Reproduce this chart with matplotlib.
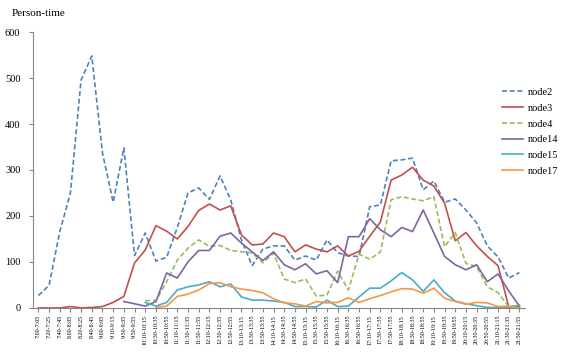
import numpy as np
import matplotlib
matplotlib.use("Agg")
import matplotlib.pyplot as plt

plt.rcParams['font.family'] = ['Liberation Serif', 'DejaVu Serif']

nan = np.nan

# time slots on the x axis
slots = ["7:00-7:05", "7:20-7:25", "7:40-7:45", "8:00-8:05", "8:20-8:25", "8:40-8:45",
         "9:00-9:05", "9:10-9:15", "9:30-9:35", "9:50-9:55", "10:10-10:15", "10:30-10:35",
         "10:50-10:55", "11:10-11:15", "11:30-11:35", "11:50-11:55", "12:10-12:15", "12:30-12:35",
         "12:50-12:55", "13:10-13:15", "13:30-13:35", "13:50-13:55", "14:10-14:15", "14:30-14:35",
         "14:50-14:55", "15:10-15:15", "15:30-15:35", "15:50-15:55", "16:10-16:15", "16:30-16:35",
         "16:50-16:55", "17:10-17:15", "17:30-17:35", "17:50-17:55", "18:10-18:15", "18:30-18:35",
         "18:50-18:55", "19:10-19:15", "19:30-19:35", "19:50-19:55", "20:10-20:15", "20:30-20:35",
         "20:50-20:55", "21:10-21:15", "21:30-21:35", "21:50-21:55"]

node2 = [27, 49, 165, 250, 496, 548, 337, 230, 348, 114, 163, 102, 110, 175, 250, 261,
         236, 287, 235, 148, 92, 128, 135, 135, 104, 113, 104, 148, 120, 113, 112, 220,
         224, 320, 322, 326, 257, 276, 230, 237, 213, 185, 135, 111, 65, 77]
node3 = [0, 0, 0, 3, 0, 1, 3, 12, 25, 98, 126, 179, 167, 150, 177, 212,
         226, 213, 222, 159, 137, 139, 163, 155, 122, 137, 128, 122, 135, 113, 123, 156,
         187, 278, 289, 306, 278, 265, 228, 146, 164, 135, 112, 92, 3, 3]
node4 = [nan] * 10 + [16, 16, 57, 104, 130, 148,
         134, 136, 125, 122, 120, 98, 119, 63, 55, 63, 26, 28, 80, 39, 117, 106,
         122, 235, 242, 237, 233, 242, 133, 164, 97, 90, 46, 33, 3, 4]
node14 = [nan] * 8 + [14, 9, 4, 14, 76, 65, 100, 125,
          125, 156, 163, 141, 122, 103, 122, 94, 83, 96, 74, 81, 55, 155, 155, 194,
          170, 155, 175, 166, 213, 163, 112, 94, 83, 94, 57, 74, 37, 4]
node15 = [nan] * 10 + [12, 4, 12, 39, 46, 50,
          57, 46, 52, 24, 17, 17, 15, 12, 3, 3, 2, 17, 3, 4, 24, 43,
          43, 59, 77, 61, 36, 61, 33, 15, 9, 5, 1, 1, 1, 6]
node17 = [nan] * 11 + [1, 4, 25, 30, 39,
          53, 55, 46, 41, 38, 33, 20, 11, 9, 4, 14, 11, 12, 22, 12, 20,
          27, 35, 42, 41, 32, 43, 21, 14, 8, 12, 11, 3, 4, 0]

names = ["node2", "node3", "node4", "node14", "node15", "node17"]
series = [node2, node3, node4, node14, node15, node17]
colors = ["#4F81BD", "#C0504D", "#9BBB59", "#8064A2", "#4BACC6", "#F79646"]
dashed = [True, False, True, False, False, False]

fig = plt.figure(figsize=(5.62, 3.56), dpi=100)
ax = fig.add_axes([0.0587, 0.135, 0.875, 0.775])

x = np.arange(len(slots))
for name, vals, c, d in zip(names, series, colors, dashed):
    ls = (0, (3, 1.6)) if d else "-"
    ax.plot(x, np.array(vals, dtype=float), color=c, lw=1.2, ls=ls, label=name)

ax.set_xlim(-0.5, len(slots) - 0.5)
ax.set_ylim(0, 600)
ax.set_yticks(range(0, 601, 100))
ax.set_xticks(x)
ax.set_xticklabels(slots, rotation=90, fontsize=4.3)
ax.tick_params(axis="y", labelsize=7.5, length=3, color="#868686", pad=6)
ax.tick_params(axis="x", length=3, color="#868686", pad=2)

for s in ["top", "right"]:
    ax.spines[s].set_visible(False)
for s in ["left", "bottom"]:
    ax.spines[s].set_color("#868686")
    ax.spines[s].set_linewidth(0.8)

fig.text(0.021, 0.963, "Person-time", fontsize=8, va="center", ha="left")

fig.legend(loc="upper left", bbox_to_anchor=(0.886, 0.765), frameon=False,
           fontsize=7.5, handlelength=2.0, labelspacing=0.62, handletextpad=0.5,
           borderaxespad=0)

fig.savefig("out.png", dpi=100)
